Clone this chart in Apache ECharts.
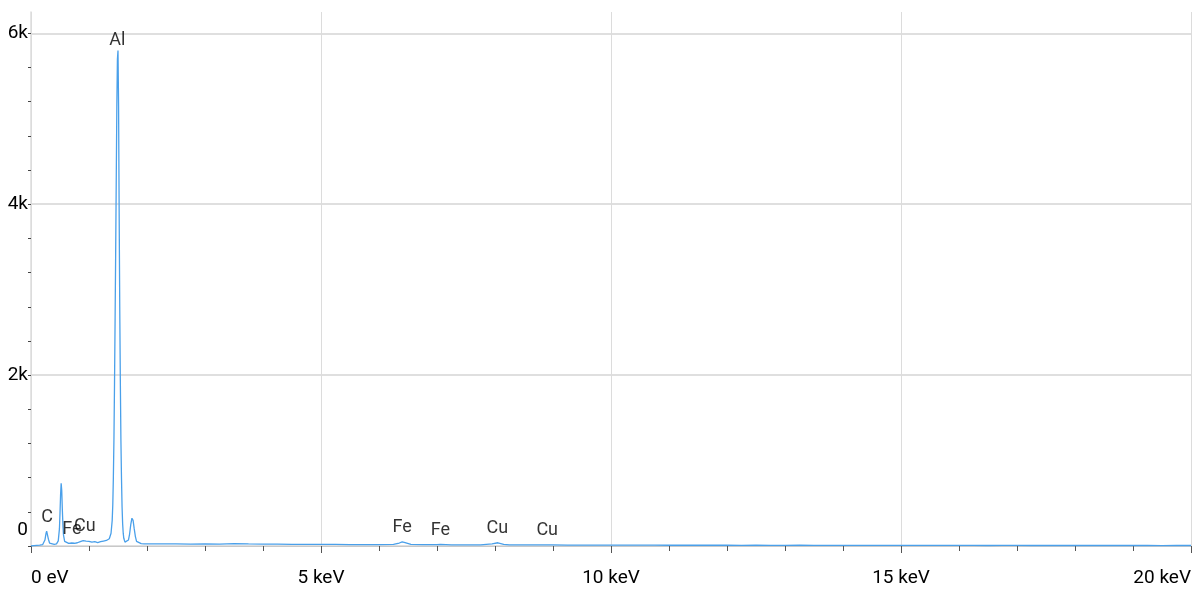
<!DOCTYPE html>
<html lang="en">
<head>
    <meta charset="UTF-8">
    <title>EDS spectrum</title>
    <script type="text/javascript" src="https://cdn.jsdelivr.net/npm/echarts@6/dist/echarts.min.js"></script>
    <style>
        html, body { margin: 0; padding: 0; background: #fff; }
    </style>
</head>
<body>
    <div id="main" style="width: 1200px; height: 590px;"></div>
    <script type="text/javascript">
        // spectrum, energy in keV / counts
        var energy = [
            0.00, 0.05, 0.10, 0.15, 0.20, 0.22, 0.24, 0.26, 0.27, 0.28, 0.30, 0.32, 0.35, 0.40, 0.44,
            0.47, 0.49, 0.50, 0.51, 0.52, 0.53, 0.54, 0.55, 0.56, 0.58, 0.61, 0.65, 0.70, 0.75, 0.80,
            0.85, 0.90, 0.95, 1.00, 1.05, 1.10, 1.15, 1.20, 1.25, 1.30, 1.35, 1.38, 1.40, 1.41, 1.42,
            1.43, 1.44, 1.45, 1.46, 1.47, 1.48, 1.49, 1.50, 1.51, 1.52, 1.53, 1.54, 1.55, 1.56, 1.57,
            1.58, 1.59, 1.60, 1.62, 1.65, 1.68, 1.70, 1.72, 1.74, 1.75, 1.76, 1.78, 1.80, 1.82, 1.85,
            1.90, 1.95, 2.00, 2.25, 2.50, 2.75, 3.00, 3.25, 3.50, 3.75, 4.00, 4.25, 4.50, 4.75, 5.00,
            5.25, 5.50, 5.75, 6.00, 6.25, 6.35, 6.40, 6.45, 6.55, 6.75, 7.00, 7.06, 7.25, 7.50, 7.75,
            7.95, 8.05, 8.15, 8.25, 8.50, 8.75, 9.00, 9.25, 9.50, 9.75, 10.00, 10.25, 10.50, 10.75, 11.00,
            11.25, 11.50, 11.75, 12.00, 12.25, 12.50, 12.75, 13.00, 13.25, 13.50, 13.75, 14.00, 14.25, 14.50,
            14.75, 15.00, 15.25, 15.50, 15.75, 16.00, 16.25, 16.50, 16.75, 17.00, 17.25, 17.50, 17.75, 18.00,
            18.25, 18.50, 18.75, 19.00, 19.25, 19.50, 19.75, 20.00
        ];
        var counts = [
            0, 5, 8, 10, 15, 25, 70, 150, 175, 160, 80, 35, 22, 20, 25,
            60, 200, 380, 600, 735, 650, 430, 250, 130, 55, 35, 30, 35, 32, 38,
            50, 62, 58, 55, 45, 50, 40, 50, 58, 65, 85, 150, 300, 480, 800,
            1250, 1900, 2650, 3450, 4300, 5150, 5700, 5800, 5150, 3900, 2800, 1950, 1250, 800, 460,
            260, 150, 90, 45, 40, 70, 140, 250, 325, 330, 300, 200, 110, 55, 35,
            28, 25, 26, 24, 26, 22, 25, 23, 27, 24, 22, 21, 20, 19, 18,
            18, 17, 17, 16, 18, 35, 48, 40, 18, 15, 15, 18, 14, 14, 13,
            25, 38, 20, 13, 12, 12, 12, 11, 11, 11, 10, 11, 10, 10, 9,
            10, 9, 9, 9, 8, 9, 8, 8, 9, 8, 8, 7, 8, 7,
            8, 7, 7, 7, 8, 7, 7, 6, 7, 7, 6, 7, 6, 6,
            6, 7, 6, 6, 6, 5, 6, 6
        ];

        // element line markers
        var lineNames = ['C', 'Fe', 'Cu', 'Al', 'Fe', 'Fe', 'Cu', 'Cu'];
        var lineEnergy = [0.277, 0.705, 0.93, 1.487, 6.40, 7.06, 8.04, 8.90];
        var lineCounts = [175, 35, 60, 5750, 48, 18, 38, 12];

        var font = 'Roboto, "Noto Sans", sans-serif';

        var spectrum = energy.map(function (e, i) { return [e, counts[i]]; });
        var markers = lineNames.map(function (n, i) {
            return { name: n, value: [lineEnergy[i], lineCounts[i]] };
        });

        var myChart = echarts.init(document.getElementById('main'));

        // only every 5th y tick (2000) gets a grid line and a label
        var gridColors = ['#d4d4d4', 'rgba(0,0,0,0)', 'rgba(0,0,0,0)', 'rgba(0,0,0,0)', 'rgba(0,0,0,0)'];

        var option = {
            animation: false,
            backgroundColor: '#fff',
            grid: { left: 31, right: 9, top: 12, bottom: 44, containLabel: false },
            xAxis: {
                type: 'value',
                min: 0,
                max: 20,
                interval: 5,
                axisLine: { show: true, lineStyle: { color: '#c8c8c8', width: 1 } },
                axisTick: { show: true, length: 7, lineStyle: { color: '#555' } },
                minorTick: { show: true, splitNumber: 5, length: 5, lineStyle: { color: '#555' } },
                splitLine: { show: true, lineStyle: { color: '#dcdcdc', width: 1 } },
                axisLabel: {
                    margin: 23,
                    color: '#000',
                    fontFamily: font,
                    fontSize: 19,
                    alignMinLabel: 'left',
                    alignMaxLabel: 'right',
                    formatter: function (v) { return v === 0 ? '0 eV' : v + ' keV'; }
                }
            },
            yAxis: {
                type: 'value',
                min: 0,
                max: 6250,
                interval: 400,
                axisLine: { show: true, lineStyle: { color: '#dcdcdc', width: 1.5 } },
                axisTick: { show: true, length: 3, lineStyle: { color: '#444' } },
                splitLine: {
                    show: true,
                    showMaxLine: false,
                    lineStyle: { color: gridColors, width: 1.5 }
                },
                axisLabel: {
                    margin: 3,
                    color: '#000',
                    fontFamily: font,
                    fontSize: 19,
                    showMaxLabel: false,
                    formatter: function (v) {
                        if (v === 0) return '{z|0}';
                        if (v % 2000 !== 0) return '';
                        return v / 1000 + 'k';
                    },
                    rich: {
                        z: { fontFamily: font, fontSize: 19, color: '#000', padding: [0, 0, 32, 0] }
                    }
                }
            },
            series: [
                {
                    name: 'spectrum',
                    type: 'line',
                    data: spectrum,
                    showSymbol: false,
                    symbol: 'none',
                    lineStyle: { color: '#4aa0ea', width: 1.3 },
                    z: 3
                },
                {
                    name: 'lines',
                    type: 'scatter',
                    data: markers,
                    symbolSize: 0,
                    z: 5,
                    label: {
                        show: true,
                        position: 'top',
                        distance: 5,
                        color: '#000',
                        fontFamily: font,
                        fontSize: 18,
                        formatter: '{b}'
                    }
                }
            ]
        };

        myChart.setOption(option);
    </script>
</body>
</html>
